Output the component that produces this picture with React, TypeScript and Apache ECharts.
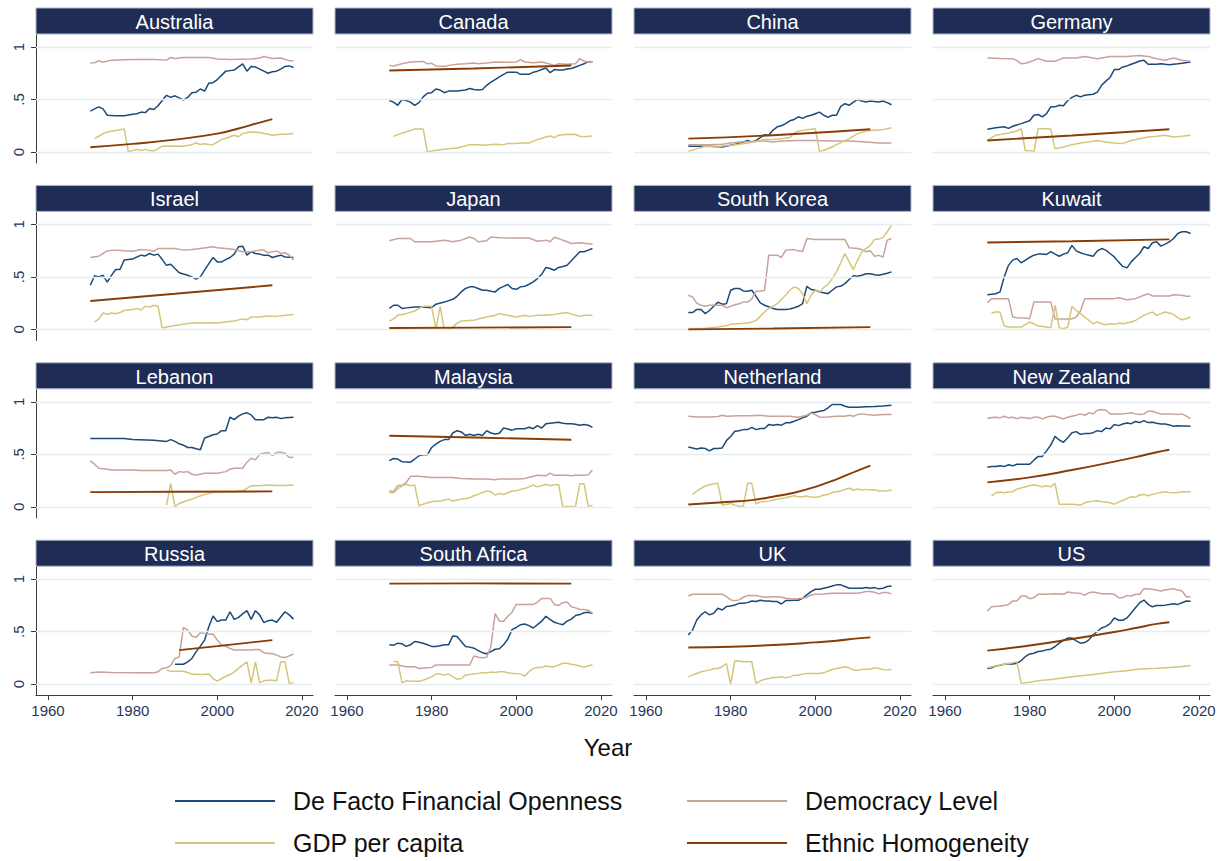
import React, { useEffect, useRef } from "react";
import * as echarts from "echarts";

type P = [number, number][];

const COUNTRIES = ["Australia", "Canada", "China", "Germany", "Israel", "Japan", "South Korea", "Kuwait", "Lebanon", "Malaysia", "Netherland", "New Zealand", "Russia", "South Africa", "UK", "US"];
const SERIES_NAMES = ["De Facto Financial Openness", "Democracy Level", "GDP per capita", "Ethnic Homogeneity"];
const SERIES_COLORS = ["#1b4a78", "#c8a29b", "#d4c67c", "#8a3c06"];
const X_TICKS = [1960, 1980, 2000, 2020];
const Y_TICKS = [0, 0.5, 1];
const X_TITLE = "Year";

// Australia
const AUS_FIN: P = [[1970,.39],[1971,.41],[1972,.43],[1973,.41],[1974,.35],[1976,.345],[1978,.345],[1980,.36],[1981,.365],[1982,.38],[1983,.375],[1984,.415],[1985,.405],[1986,.44],[1987,.49],[1988,.54],[1989,.52],[1990,.535],[1991,.515],[1992,.495],[1993,.52],[1994,.565],[1995,.57],[1996,.6],[1997,.58],[1998,.655],[1999,.66],[2000,.69],[2001,.73],[2002,.77],[2003,.775],[2004,.78],[2005,.81],[2006,.84],[2007,.77],[2008,.815],[2009,.81],[2010,.79],[2011,.77],[2012,.75],[2013,.765],[2014,.77],[2015,.79],[2016,.815],[2017,.82],[2018,.805]];
const AUS_DEM: P = [[1970,.847],[1971,.85],[1972,.87],[1973,.855],[1975,.875],[1978,.878],[1980,.88],[1985,.88],[1988,.875],[1989,.9],[1990,.89],[1992,.9],[1995,.9],[1998,.9],[2000,.885],[2003,.88],[2008,.885],[2010,.895],[2011,.91],[2013,.89],[2015,.895],[2017,.87],[2018,.87]];
const AUS_GDP: P = [[1971,.13],[1972,.15],[1973,.175],[1974,.19],[1976,.205],[1978,.22],[1979,0],[1980,.015],[1981,.025],[1982,.015],[1983,.025],[1984,.015],[1985,.01],[1986,.03],[1987,.055],[1990,.057],[1992,.055],[1994,.07],[1995,.085],[1996,.072],[1997,.078],[1998,.072],[1999,.07],[2000,.095],[2001,.12],[2002,.13],[2003,.145],[2004,.16],[2005,.145],[2006,.175],[2007,.185],[2008,.19],[2010,.185],[2012,.17],[2013,.16],[2015,.168],[2016,.17],[2018,.175]];
const AUS_ETH: P = [[1970,.045],[1980,.077],[1990,.118],[2000,.175],[2005,.224],[2010,.28],[2013,.313]];
// Canada
const CAN_FIN: P = [[1970,.49],[1971,.475],[1972,.445],[1973,.5],[1974,.49],[1975,.475],[1976,.445],[1977,.47],[1978,.525],[1979,.56],[1980,.565],[1981,.6],[1982,.59],[1983,.565],[1984,.58],[1986,.58],[1988,.59],[1989,.605],[1990,.595],[1991,.59],[1992,.595],[1993,.635],[1994,.665],[1995,.69],[1996,.715],[1997,.74],[1998,.76],[2000,.76],[2001,.74],[2003,.74],[2004,.76],[2005,.77],[2006,.785],[2007,.8],[2008,.755],[2009,.785],[2010,.78],[2011,.78],[2012,.79],[2013,.795],[2014,.81],[2015,.825],[2016,.84],[2017,.86],[2018,.86]];
const CAN_DEM: P = [[1970,.825],[1971,.82],[1973,.84],[1975,.857],[1978,.863],[1979,.84],[1980,.845],[1981,.82],[1983,.815],[1984,.825],[1986,.835],[1988,.84],[1990,.848],[1991,.84],[1993,.848],[1995,.857],[1998,.855],[2000,.857],[2001,.88],[2002,.857],[2004,.85],[2006,.857],[2007,.848],[2009,.825],[2010,.84],[2012,.835],[2014,.84],[2015,.89],[2016,.865],[2017,.857],[2018,.863]];
const CAN_GDP: P = [[1971,.15],[1973,.18],[1975,.205],[1976,.22],[1978,.22],[1979,0],[1980,.01],[1982,.022],[1984,.03],[1986,.038],[1987,.048],[1989,.07],[1991,.07],[1992,.064],[1995,.073],[1997,.07],[1998,.08],[2000,.08],[2001,.086],[2003,.086],[2005,.118],[2007,.143],[2008,.153],[2009,.137],[2010,.16],[2012,.17],[2014,.167],[2015,.15],[2016,.145],[2018,.153]];
const CAN_ETH: P = [[1970,.776],[1990,.795],[2013,.824]];
// China
const CHN_FIN: P = [[1970,.054],[1975,.054],[1978,.048],[1980,.064],[1982,.08],[1984,.11],[1985,.096],[1986,.11],[1987,.137],[1988,.165],[1989,.16],[1990,.207],[1991,.24],[1992,.25],[1993,.27],[1994,.297],[1995,.31],[1996,.335],[1997,.32],[1998,.34],[1999,.35],[2000,.365],[2001,.38],[2002,.35],[2003,.33],[2004,.35],[2005,.35],[2006,.435],[2007,.46],[2008,.445],[2009,.475],[2010,.5],[2011,.485],[2012,.477],[2013,.485],[2014,.48],[2015,.477],[2016,.485],[2017,.47],[2018,.45]];
const CHN_DEM: P = [[1970,.07],[1975,.07],[1978,.073],[1980,.086],[1982,.095],[1985,.1],[1988,.105],[1990,.096],[1992,.105],[1996,.11],[2000,.11],[2004,.105],[2008,.105],[2012,.096],[2015,.086],[2018,.086]];
const CHN_GDP: P = [[1970,.006],[1972,.03],[1974,.055],[1977,.048],[1978,.057],[1980,.064],[1982,.073],[1984,.086],[1986,.1],[1988,.118],[1990,.118],[1992,.127],[1994,.137],[1995,.18],[1996,.2],[1998,.213],[2000,.222],[2001,.006],[2002,.016],[2004,.048],[2006,.09],[2008,.127],[2010,.175],[2012,.2],[2014,.207],[2016,.213],[2018,.23]];
const CHN_ETH: P = [[1970,.127],[1990,.16],[2013,.217]];
// Germany
const DEU_FIN: P = [[1970,.217],[1972,.23],[1974,.24],[1975,.225],[1976,.245],[1978,.27],[1980,.297],[1981,.35],[1982,.357],[1983,.335],[1984,.365],[1985,.43],[1986,.43],[1987,.445],[1988,.44],[1989,.49],[1990,.52],[1991,.54],[1992,.525],[1993,.54],[1994,.545],[1995,.55],[1996,.57],[1997,.635],[1998,.675],[1999,.71],[2000,.785],[2001,.785],[2002,.81],[2003,.82],[2004,.835],[2005,.85],[2006,.867],[2007,.873],[2008,.835],[2010,.835],[2011,.84],[2012,.835],[2013,.832],[2015,.84],[2016,.845],[2018,.857]];
const DEU_DEM: P = [[1970,.895],[1973,.89],[1976,.889],[1977,.87],[1978,.84],[1979,.845],[1980,.857],[1982,.889],[1984,.864],[1986,.864],[1987,.88],[1988,.895],[1991,.895],[1993,.91],[1996,.889],[1999,.91],[2003,.91],[2006,.92],[2008,.91],[2010,.889],[2012,.873],[2014,.895],[2016,.873],[2018,.864]];
const DEU_GDP: P = [[1970,.11],[1972,.16],[1975,.18],[1977,.2],[1978,.222],[1979,.01],[1980,.015],[1981,0],[1982,.222],[1984,.222],[1985,.218],[1986,.03],[1988,.048],[1990,.07],[1992,.086],[1994,.095],[1996,.11],[1998,.095],[2000,.086],[2002,.08],[2004,.11],[2006,.127],[2008,.143],[2010,.15],[2012,.16],[2014,.143],[2016,.15],[2018,.16]];
const DEU_ETH: P = [[1970,.11],[1990,.157],[2013,.216]];
// Israel
const ISR_FIN: P = [[1970,.42],[1971,.51],[1972,.5],[1973,.515],[1974,.45],[1975,.515],[1976,.57],[1977,.57],[1978,.66],[1980,.67],[1981,.69],[1982,.707],[1983,.7],[1984,.723],[1985,.707],[1986,.717],[1987,.665],[1988,.61],[1989,.62],[1990,.58],[1991,.54],[1992,.527],[1993,.515],[1994,.5],[1995,.478],[1996,.5],[1997,.565],[1998,.627],[1999,.685],[2000,.643],[2001,.643],[2002,.665],[2003,.685],[2004,.717],[2005,.787],[2006,.793],[2007,.707],[2008,.74],[2009,.723],[2010,.717],[2011,.707],[2012,.707],[2013,.685],[2014,.697],[2015,.707],[2016,.69],[2018,.685]];
const ISR_DEM: P = [[1970,.685],[1972,.697],[1974,.748],[1976,.755],[1978,.748],[1980,.745],[1982,.76],[1984,.755],[1985,.742],[1986,.77],[1990,.77],[1992,.755],[1994,.76],[1996,.77],[1999,.787],[2000,.777],[2002,.77],[2004,.76],[2006,.74],[2008,.74],[2010,.755],[2011,.755],[2012,.73],[2014,.748],[2015,.723],[2016,.73],[2017,.707],[2018,.66]];
const ISR_GDP: P = [[1971,.07],[1972,.1],[1973,.156],[1974,.143],[1975,.156],[1976,.15],[1977,.16],[1978,.18],[1980,.19],[1981,.2],[1982,.185],[1983,.22],[1984,.213],[1985,.23],[1986,.22],[1987,.013],[1988,.022],[1990,.038],[1992,.048],[1994,.06],[1996,.06],[1998,.064],[2000,.06],[2002,.07],[2004,.08],[2006,.1],[2007,.092],[2008,.118],[2010,.118],[2012,.127],[2014,.124],[2016,.134],[2018,.143]];
const ISR_ETH: P = [[1970,.27],[1990,.34],[2013,.42]];
// Japan
const JPN_FIN: P = [[1970,.2],[1971,.23],[1972,.23],[1973,.2],[1974,.205],[1976,.213],[1978,.213],[1980,.207],[1981,.24],[1983,.26],[1985,.287],[1986,.315],[1987,.357],[1988,.39],[1989,.405],[1990,.405],[1991,.39],[1992,.373],[1993,.373],[1994,.363],[1995,.357],[1996,.39],[1997,.41],[1998,.427],[1999,.39],[2000,.382],[2001,.405],[2002,.41],[2003,.43],[2004,.452],[2005,.484],[2006,.525],[2007,.59],[2008,.58],[2009,.564],[2010,.59],[2011,.6],[2012,.61],[2013,.653],[2014,.697],[2015,.74],[2016,.74],[2017,.755],[2018,.77]];
const JPN_DEM: P = [[1970,.845],[1972,.866],[1975,.866],[1976,.835],[1980,.835],[1983,.85],[1985,.835],[1987,.85],[1989,.88],[1990,.866],[1991,.835],[1993,.845],[1994,.88],[1996,.873],[2000,.87],[2003,.87],[2005,.84],[2007,.85],[2008,.835],[2009,.878],[2011,.85],[2012,.835],[2013,.818],[2015,.825],[2018,.81]];
const JPN_GDP: P = [[1970,.076],[1971,.1],[1972,.134],[1974,.15],[1976,.175],[1977,.197],[1978,.22],[1980,.22],[1981,0],[1982,.22],[1983,0],[1984,0],[1985,.022],[1986,.06],[1987,.08],[1990,.086],[1991,.1],[1993,.118],[1995,.134],[1996,.15],[1998,.134],[2000,.118],[2002,.134],[2003,.124],[2005,.134],[2007,.134],[2009,.143],[2011,.156],[2012,.16],[2014,.134],[2015,.124],[2016,.134],[2018,.134]];
const JPN_ETH: P = [[1970,.013],[1990,.017],[2013,.022]];
// South Korea
const KOR_FIN: P = [[1970,.16],[1971,.16],[1972,.19],[1973,.19],[1974,.15],[1975,.18],[1976,.22],[1977,.26],[1978,.24],[1979,.245],[1980,.373],[1981,.39],[1982,.39],[1983,.366],[1984,.363],[1985,.373],[1986,.315],[1987,.252],[1988,.23],[1989,.215],[1990,.2],[1991,.19],[1993,.19],[1994,.195],[1995,.207],[1996,.22],[1997,.245],[1998,.41],[1999,.38],[2000,.373],[2001,.357],[2002,.35],[2003,.34],[2004,.373],[2005,.405],[2006,.41],[2007,.436],[2008,.475],[2009,.51],[2010,.507],[2011,.516],[2012,.53],[2013,.53],[2014,.52],[2015,.516],[2016,.525],[2017,.535],[2018,.548]];
const KOR_DEM: P = [[1970,.325],[1971,.31],[1972,.25],[1973,.23],[1974,.22],[1975,.23],[1977,.23],[1978,.23],[1979,.207],[1980,.22],[1981,.235],[1982,.245],[1983,.26],[1984,.26],[1985,.29],[1986,.363],[1987,.366],[1988,.37],[1989,.707],[1990,.707],[1991,.707],[1992,.685],[1993,.755],[1995,.76],[1996,.748],[1997,.742],[1998,.866],[2000,.857],[2002,.857],[2004,.857],[2007,.857],[2008,.777],[2010,.77],[2011,.76],[2012,.74],[2013,.748],[2014,.697],[2015,.705],[2016,.69],[2017,.85],[2018,.866]];
const KOR_GDP: P = [[1970,.006],[1974,.012],[1977,.022],[1979,.035],[1980,.048],[1982,.054],[1984,.06],[1985,.07],[1986,.086],[1987,.124],[1988,.166],[1989,.2],[1990,.22],[1991,.245],[1992,.287],[1993,.325],[1994,.373],[1995,.405],[1996,.39],[1997,.34],[1998,.245],[1999,.325],[2000,.373],[2001,.35],[2002,.4],[2003,.43],[2004,.484],[2005,.548],[2006,.634],[2007,.723],[2008,.643],[2009,.57],[2010,.66],[2011,.74],[2012,.77],[2013,.8],[2014,.857],[2015,.86],[2016,.876],[2017,.93],[2018,.994]];
const KOR_ETH: P = [[1970,0],[1990,.008],[2013,.022]];
// Kuwait
const KWT_FIN: P = [[1970,.33],[1972,.34],[1973,.357],[1974,.5],[1975,.61],[1976,.66],[1977,.675],[1978,.634],[1979,.66],[1980,.685],[1981,.707],[1982,.717],[1983,.717],[1984,.714],[1985,.74],[1986,.717],[1987,.697],[1988,.717],[1989,.73],[1990,.8],[1991,.748],[1992,.73],[1993,.717],[1994,.707],[1995,.697],[1996,.748],[1997,.77],[1998,.755],[1999,.723],[2000,.69],[2001,.643],[2002,.6],[2003,.586],[2004,.643],[2005,.685],[2006,.723],[2007,.787],[2008,.77],[2009,.825],[2010,.834],[2011,.793],[2012,.812],[2013,.834],[2014,.866],[2015,.914],[2016,.93],[2017,.93],[2018,.914]];
const KWT_DEM: P = [[1970,.255],[1971,.293],[1975,.293],[1976,.118],[1977,.112],[1979,.108],[1980,.102],[1981,.26],[1985,.26],[1986,.1],[1990,.1],[1991,.118],[1992,.175],[1993,.293],[1995,.293],[1998,.293],[2000,.293],[2001,.302],[2003,.283],[2005,.293],[2007,.325],[2008,.34],[2009,.318],[2011,.318],[2013,.318],[2014,.33],[2016,.325],[2017,.315],[2018,.315]];
const KWT_GDP: P = [[1971,.156],[1972,.166],[1973,.166],[1974,.032],[1975,.022],[1977,.022],[1978,.022],[1979,.048],[1980,.07],[1981,.054],[1982,.032],[1984,.022],[1985,.016],[1986,.23],[1987,.016],[1988,.006],[1989,.022],[1990,.22],[1991,.18],[1992,.15],[1993,.118],[1994,.086],[1995,.054],[1996,.07],[1997,.054],[1998,.045],[1999,.054],[2000,.048],[2001,.06],[2002,.054],[2004,.07],[2005,.086],[2006,.11],[2007,.134],[2008,.15],[2009,.166],[2010,.134],[2011,.15],[2012,.166],[2013,.156],[2014,.143],[2015,.11],[2016,.092],[2017,.102],[2018,.118]];
const KWT_ETH: P = [[1970,.828],[1990,.84],[2013,.857]];
// Lebanon
const LBN_FIN: P = [[1970,.65],[1975,.65],[1978,.65],[1980,.64],[1985,.633],[1988,.623],[1989,.64],[1990,.623],[1991,.6],[1992,.587],[1993,.565],[1994,.565],[1995,.553],[1996,.543],[1997,.655],[1998,.67],[1999,.686],[2000,.693],[2001,.725],[2002,.725],[2003,.853],[2004,.83],[2005,.863],[2006,.885],[2007,.895],[2008,.875],[2009,.83],[2010,.83],[2011,.83],[2012,.853],[2013,.847],[2014,.853],[2015,.84],[2016,.847],[2018,.853]];
const LBN_DEM: P = [[1970,.438],[1971,.406],[1972,.367],[1974,.358],[1975,.351],[1980,.351],[1982,.345],[1985,.345],[1988,.345],[1989,.351],[1990,.31],[1991,.335],[1992,.329],[1993,.335],[1994,.31],[1995,.303],[1996,.31],[1997,.32],[2000,.32],[2002,.335],[2003,.358],[2004,.367],[2006,.367],[2007,.425],[2008,.463],[2009,.447],[2010,.5],[2011,.51],[2012,.518],[2013,.486],[2014,.518],[2015,.52],[2016,.51],[2017,.47],[2018,.473]];
const LBN_GDP: P = [[1988,.016],[1989,.224],[1990,0],[1991,.032],[1992,.048],[1994,.073],[1996,.105],[1998,.128],[2000,.144],[2002,.144],[2004,.144],[2006,.15],[2007,.176],[2008,.2],[2010,.2],[2012,.208],[2014,.202],[2016,.202],[2018,.208]];
const LBN_ETH: P = [[1970,.14],[1990,.143],[2013,.147]];
// Malaysia
const MYS_FIN: P = [[1970,.44],[1971,.46],[1972,.455],[1973,.43],[1975,.425],[1976,.455],[1977,.486],[1978,.495],[1979,.495],[1980,.565],[1981,.597],[1982,.623],[1983,.64],[1984,.64],[1985,.703],[1986,.725],[1987,.713],[1988,.68],[1989,.69],[1990,.68],[1991,.69],[1992,.68],[1993,.725],[1994,.703],[1995,.693],[1996,.7],[1997,.75],[1998,.74],[1999,.73],[2000,.744],[2002,.744],[2003,.757],[2004,.744],[2005,.773],[2006,.75],[2007,.79],[2008,.795],[2010,.805],[2011,.795],[2012,.79],[2013,.79],[2014,.786],[2015,.777],[2016,.783],[2017,.777],[2018,.757]];
const MYS_DEM: P = [[1970,.15],[1971,.145],[1972,.2],[1973,.205],[1974,.23],[1975,.29],[1977,.29],[1980,.28],[1985,.28],[1987,.27],[1990,.265],[1993,.265],[1995,.257],[1996,.265],[2000,.265],[2002,.27],[2004,.29],[2005,.3],[2007,.295],[2008,.32],[2009,.3],[2011,.3],[2012,.3],[2013,.295],[2014,.3],[2016,.3],[2017,.306],[2018,.35]];
const MYS_GDP: P = [[1970,.137],[1971,.134],[1972,.17],[1973,.2],[1974,.214],[1975,.2],[1976,.207],[1977,.01],[1978,.025],[1979,.038],[1980,.048],[1981,.054],[1982,.054],[1983,.064],[1984,.073],[1985,.054],[1986,.064],[1987,.073],[1988,.08],[1989,.086],[1990,.105],[1991,.118],[1992,.137],[1993,.15],[1994,.144],[1995,.112],[1996,.128],[1997,.118],[1998,.134],[1999,.15],[2000,.153],[2001,.166],[2002,.175],[2003,.19],[2004,.208],[2005,.19],[2006,.2],[2007,.214],[2008,.2],[2009,.21],[2010,.21],[2011,0],[2012,.003],[2013,.003],[2014,.006],[2015,.22],[2016,.22],[2017,.006],[2018,.013]];
const MYS_ETH: P = [[1970,.677],[1990,.66],[2013,.638]];
// Netherland
const NLD_FIN: P = [[1970,.569],[1971,.56],[1972,.55],[1973,.56],[1974,.555],[1975,.533],[1976,.555],[1977,.555],[1978,.56],[1979,.63],[1980,.67],[1981,.72],[1982,.725],[1983,.735],[1984,.735],[1985,.757],[1986,.735],[1987,.745],[1988,.745],[1989,.783],[1990,.777],[1991,.783],[1992,.777],[1993,.8],[1994,.8],[1995,.815],[1996,.83],[1997,.847],[1998,.863],[1999,.895],[2000,.9],[2001,.91],[2002,.917],[2003,.942],[2004,.974],[2005,.974],[2006,.974],[2007,.958],[2008,.949],[2010,.949],[2012,.952],[2014,.955],[2016,.96],[2018,.968]];
const NLD_DEM: P = [[1970,.863],[1972,.856],[1975,.856],[1977,.86],[1978,.872],[1979,.863],[1982,.868],[1985,.868],[1987,.872],[1989,.863],[1992,.863],[1994,.863],[1996,.853],[1998,.872],[1999,.894],[2000,.878],[2001,.853],[2003,.856],[2005,.863],[2007,.863],[2008,.872],[2009,.863],[2010,.878],[2011,.885],[2012,.878],[2014,.872],[2016,.878],[2018,.878]];
const NLD_GDP: P = [[1971,.118],[1972,.15],[1973,.176],[1974,.198],[1975,.21],[1976,.22],[1977,.224],[1978,.016],[1979,.022],[1980,.032],[1981,.016],[1982,.006],[1983,.006],[1984,.224],[1985,.224],[1986,.025],[1987,.048],[1988,.048],[1989,.054],[1990,.064],[1991,.073],[1992,.08],[1993,.086],[1994,.096],[1995,.105],[1996,.096],[1997,.096],[1998,.102],[1999,.092],[2000,.09],[2001,.096],[2002,.112],[2003,.118],[2004,.137],[2005,.144],[2006,.15],[2007,.166],[2008,.176],[2009,.16],[2010,.169],[2011,.16],[2012,.166],[2013,.16],[2014,.163],[2015,.15],[2016,.15],[2017,.153],[2018,.16]];
const NLD_ETH: P = [[1970,.022],[1980,.048],[1985,.064],[1990,.096],[1995,.134],[2000,.19],[2005,.262],[2010,.345],[2013,.393]];
// New Zealand
const NZL_FIN: P = [[1970,.377],[1971,.383],[1972,.383],[1973,.39],[1974,.383],[1975,.4],[1976,.39],[1977,.405],[1978,.405],[1979,.405],[1980,.405],[1981,.444],[1982,.48],[1983,.48],[1984,.533],[1985,.588],[1986,.671],[1987,.636],[1988,.614],[1989,.658],[1990,.706],[1991,.716],[1992,.69],[1993,.697],[1994,.697],[1995,.706],[1996,.725],[1997,.716],[1998,.751],[1999,.742],[2000,.783],[2001,.773],[2002,.789],[2003,.799],[2004,.792],[2005,.812],[2006,.802],[2007,.821],[2008,.802],[2009,.805],[2010,.795],[2011,.789],[2012,.789],[2013,.78],[2014,.767],[2015,.773],[2016,.77],[2017,.77],[2018,.767]];
const NZL_DEM: P = [[1970,.84],[1971,.85],[1972,.853],[1973,.847],[1974,.863],[1975,.847],[1976,.853],[1977,.84],[1978,.853],[1980,.84],[1981,.853],[1982,.853],[1983,.837],[1984,.853],[1985,.863],[1986,.863],[1987,.85],[1988,.837],[1989,.853],[1990,.863],[1991,.872],[1992,.885],[1993,.872],[1994,.895],[1995,.885],[1996,.92],[1997,.926],[1998,.92],[1999,.885],[2000,.885],[2002,.885],[2004,.895],[2005,.885],[2006,.878],[2007,.885],[2008,.91],[2009,.91],[2010,.895],[2011,.885],[2013,.885],[2015,.878],[2016,.885],[2017,.863],[2018,.84]];
const NZL_GDP: P = [[1971,.102],[1972,.134],[1973,.14],[1974,.134],[1975,.14],[1976,.144],[1977,.17],[1978,.18],[1979,.19],[1980,.2],[1981,.21],[1982,.2],[1983,.19],[1984,.2],[1985,.19],[1986,.224],[1987,.022],[1988,.025],[1990,.025],[1992,.016],[1993,.038],[1994,.048],[1995,.054],[1996,.058],[1997,.048],[1998,.045],[1999,.038],[2000,.025],[2001,.045],[2002,.06],[2003,.08],[2004,.096],[2005,.092],[2006,.112],[2007,.118],[2008,.105],[2009,.118],[2010,.128],[2011,.137],[2012,.144],[2013,.137],[2014,.134],[2015,.137],[2016,.144],[2018,.144]];
const NZL_ETH: P = [[1970,.233],[1980,.28],[1990,.35],[2000,.43],[2005,.473],[2010,.52],[2013,.543]];
// Russia
const RUS_FIN: P = [[1990,.19],[1991,.19],[1992,.19],[1993,.213],[1994,.245],[1995,.31],[1996,.363],[1997,.42],[1998,.548],[1999,.65],[2000,.596],[2001,.611],[2002,.611],[2003,.69],[2004,.618],[2005,.637],[2006,.669],[2007,.7],[2008,.618],[2009,.7],[2010,.66],[2011,.586],[2012,.605],[2013,.611],[2014,.59],[2015,.64],[2016,.69],[2017,.66],[2018,.62]];
const RUS_DEM: P = [[1970,.108],[1972,.115],[1975,.112],[1980,.11],[1985,.108],[1986,.118],[1987,.15],[1988,.156],[1989,.18],[1990,.245],[1991,.26],[1992,.541],[1993,.516],[1994,.459],[1995,.446],[1996,.49],[1997,.484],[1998,.475],[1999,.478],[2000,.42],[2001,.373],[2002,.363],[2003,.34],[2004,.325],[2006,.325],[2008,.325],[2009,.33],[2010,.33],[2011,.3],[2012,.293],[2013,.293],[2014,.277],[2015,.26],[2016,.255],[2017,.27],[2018,.287]];
const RUS_GDP: P = [[1988,.134],[1989,.124],[1990,.124],[1992,.124],[1993,.111],[1994,.096],[1996,.093],[1998,.096],[1999,.054],[2000,.029],[2001,.054],[2002,.076],[2003,.092],[2004,.118],[2005,.15],[2006,.182],[2007,.213],[2008,.013],[2009,.213],[2010,.013],[2011,.032],[2012,.038],[2013,.038],[2014,.032],[2015,.213],[2016,.213],[2017,.006],[2018,.013]];
const RUS_ETH: P = [[1991,.325],[2000,.363],[2013,.42]];
// South Africa
const ZAF_FIN: P = [[1970,.375],[1971,.37],[1972,.391],[1973,.385],[1974,.36],[1975,.375],[1976,.407],[1977,.4],[1978,.39],[1979,.375],[1980,.36],[1981,.36],[1982,.366],[1983,.375],[1984,.375],[1985,.46],[1986,.455],[1987,.407],[1988,.36],[1989,.353],[1990,.343],[1991,.32],[1992,.3],[1993,.29],[1994,.31],[1995,.333],[1996,.337],[1997,.375],[1998,.43],[1999,.52],[2000,.54],[2001,.567],[2002,.574],[2003,.558],[2004,.535],[2005,.567],[2006,.6],[2007,.647],[2008,.615],[2009,.59],[2010,.577],[2011,.567],[2012,.6],[2013,.62],[2014,.654],[2015,.663],[2016,.68],[2017,.686],[2018,.673]];
const ZAF_DEM: P = [[1970,.183],[1972,.183],[1974,.167],[1976,.167],[1977,.15],[1979,.157],[1980,.16],[1981,.183],[1983,.183],[1986,.183],[1988,.183],[1989,.183],[1990,.27],[1991,.257],[1992,.253],[1993,.257],[1994,.36],[1995,.673],[1996,.6],[1997,.6],[1998,.647],[1999,.686],[2000,.76],[2001,.76],[2003,.76],[2004,.76],[2005,.78],[2006,.817],[2007,.817],[2008,.817],[2009,.76],[2010,.75],[2011,.776],[2012,.782],[2013,.737],[2014,.727],[2015,.712],[2016,.712],[2017,.705],[2018,.673]];
const ZAF_GDP: P = [[1971,.215],[1972,.215],[1973,.013],[1974,.032],[1975,.029],[1976,.029],[1977,.029],[1978,.038],[1979,.054],[1980,.07],[1981,.096],[1982,.096],[1983,.087],[1984,.096],[1985,.07],[1986,.048],[1987,.054],[1988,.087],[1989,.093],[1990,.096],[1991,.103],[1992,.109],[1993,.109],[1994,.115],[1995,.112],[1996,.119],[1997,.119],[1998,.109],[1999,.103],[2000,.103],[2001,.096],[2002,.077],[2003,.119],[2004,.15],[2005,.16],[2006,.16],[2007,.173],[2008,.167],[2009,.167],[2010,.183],[2011,.2],[2012,.2],[2013,.19],[2014,.183],[2015,.173],[2016,.16],[2017,.176],[2018,.183]];
const ZAF_ETH: P = [[1970,.958],[1990,.96],[2013,.958]];
// UK
const GBR_FIN: P = [[1970,.468],[1971,.516],[1972,.611],[1973,.66],[1974,.69],[1975,.66],[1976,.675],[1977,.723],[1978,.707],[1979,.739],[1980,.745],[1981,.755],[1982,.77],[1983,.77],[1984,.777],[1985,.793],[1986,.787],[1987,.8],[1988,.793],[1989,.793],[1990,.787],[1991,.787],[1992,.764],[1993,.796],[1994,.796],[1995,.8],[1996,.8],[1997,.818],[1998,.85],[1999,.882],[2000,.904],[2001,.904],[2002,.914],[2003,.924],[2004,.936],[2005,.946],[2006,.946],[2007,.93],[2008,.914],[2009,.914],[2010,.914],[2011,.914],[2012,.92],[2013,.914],[2014,.92],[2015,.908],[2016,.914],[2017,.93],[2018,.936]];
const GBR_DEM: P = [[1970,.84],[1971,.857],[1975,.857],[1978,.857],[1979,.834],[1980,.803],[1981,.796],[1982,.803],[1983,.828],[1984,.844],[1986,.844],[1988,.828],[1990,.834],[1991,.834],[1992,.828],[1993,.818],[1995,.812],[1997,.818],[1998,.828],[1999,.85],[2000,.857],[2002,.86],[2004,.866],[2006,.866],[2008,.866],[2010,.866],[2011,.873],[2012,.882],[2013,.882],[2014,.876],[2015,.86],[2016,.873],[2017,.873],[2018,.86]];
const GBR_GDP: P = [[1970,.07],[1971,.086],[1972,.102],[1973,.118],[1974,.127],[1975,.134],[1976,.15],[1977,.15],[1978,.166],[1979,.197],[1980,0],[1981,.223],[1982,.22],[1983,.213],[1984,.213],[1985,.213],[1986,.006],[1987,.032],[1988,.045],[1989,.054],[1990,.064],[1991,.064],[1992,.07],[1993,.06],[1994,.07],[1995,.086],[1996,.086],[1997,.096],[1998,.102],[1999,.102],[2000,.102],[2001,.102],[2002,.108],[2003,.124],[2004,.14],[2005,.15],[2006,.156],[2007,.166],[2008,.156],[2009,.134],[2010,.134],[2011,.14],[2012,.143],[2013,.143],[2014,.156],[2015,.15],[2016,.14],[2017,.134],[2018,.143]];
const GBR_ETH: P = [[1970,.35],[1980,.357],[1990,.373],[2000,.398],[2005,.414],[2010,.436],[2013,.446]];
// US
const USA_FIN: P = [[1970,.15],[1971,.157],[1972,.173],[1973,.18],[1974,.189],[1975,.192],[1976,.192],[1977,.199],[1978,.224],[1979,.263],[1980,.288],[1981,.295],[1982,.311],[1983,.317],[1984,.327],[1985,.333],[1986,.359],[1987,.391],[1988,.417],[1989,.439],[1990,.439],[1991,.413],[1992,.391],[1993,.397],[1994,.423],[1995,.471],[1996,.503],[1997,.535],[1998,.551],[1999,.577],[2000,.631],[2001,.609],[2002,.609],[2003,.631],[2004,.679],[2005,.728],[2006,.776],[2007,.801],[2008,.76],[2009,.737],[2010,.75],[2011,.75],[2012,.753],[2013,.76],[2014,.766],[2015,.76],[2016,.776],[2017,.792],[2018,.789]];
const USA_DEM: P = [[1970,.696],[1971,.737],[1973,.744],[1974,.75],[1975,.76],[1976,.792],[1977,.792],[1978,.84],[1979,.84],[1980,.814],[1981,.824],[1982,.856],[1984,.856],[1986,.862],[1988,.856],[1989,.878],[1990,.872],[1992,.865],[1993,.846],[1994,.872],[1995,.878],[1997,.862],[1999,.862],[2000,.856],[2001,.824],[2002,.824],[2003,.846],[2004,.84],[2005,.856],[2006,.856],[2007,.91],[2008,.91],[2010,.897],[2011,.888],[2012,.897],[2013,.904],[2014,.91],[2015,.897],[2016,.888],[2017,.833],[2018,.833]];
const USA_GDP: P = [[1970,.157],[1972,.173],[1974,.189],[1976,.205],[1977,.215],[1978,.006],[1980,.019],[1982,.032],[1985,.045],[1990,.071],[1995,.093],[2000,.119],[2003,.128],[2006,.144],[2010,.151],[2015,.163],[2018,.179]];
const USA_ETH: P = [[1970,.32],[1980,.369],[1990,.43],[2000,.497],[2005,.535],[2010,.574],[2013,.59]];

const FIN_OPEN = [AUS_FIN, CAN_FIN, CHN_FIN, DEU_FIN, ISR_FIN, JPN_FIN, KOR_FIN, KWT_FIN, LBN_FIN, MYS_FIN, NLD_FIN, NZL_FIN, RUS_FIN, ZAF_FIN, GBR_FIN, USA_FIN];
const DEMOCRACY = [AUS_DEM, CAN_DEM, CHN_DEM, DEU_DEM, ISR_DEM, JPN_DEM, KOR_DEM, KWT_DEM, LBN_DEM, MYS_DEM, NLD_DEM, NZL_DEM, RUS_DEM, ZAF_DEM, GBR_DEM, USA_DEM];
const GDP_PC = [AUS_GDP, CAN_GDP, CHN_GDP, DEU_GDP, ISR_GDP, JPN_GDP, KOR_GDP, KWT_GDP, LBN_GDP, MYS_GDP, NLD_GDP, NZL_GDP, RUS_GDP, ZAF_GDP, GBR_GDP, USA_GDP];
const ETHNIC = [AUS_ETH, CAN_ETH, CHN_ETH, DEU_ETH, ISR_ETH, JPN_ETH, KOR_ETH, KWT_ETH, LBN_ETH, MYS_ETH, NLD_ETH, NZL_ETH, RUS_ETH, ZAF_ETH, GBR_ETH, USA_ETH];
const SERIES_DATA = [FIN_OPEN, DEMOCRACY, GDP_PC, ETHNIC];

// layout
const FONT = "'Liberation Sans', Arial, Helvetica, sans-serif";
const COL_LEFT0 = 36;
const COL_STEP = 299;
const PANEL_W = 277;
const ROW_TOP0 = 8;
const ROW_STEP = 177.4;
const STRIP_H = 26;
const PLOT_GAP = 27;
const PLOT_H = 128;
const X_MIN = 1957.17;
const X_MAX = 2022.61;
const Y_MIN = -0.1048;
const Y_MAX = 1.1143;
const STRIP_FILL = "#1f2c55";
const STRIP_STROKE = "#aeb6c6";
const LABEL_COLOR = "#27365a";
const GRID_COLOR = "#e5edf0";

function buildOption() {
  const grid: any[] = [];
  const xAxis: any[] = [];
  const yAxis: any[] = [];
  const series: any[] = [];
  const graphic: any[] = [];

  COUNTRIES.forEach((name, i) => {
    const row = Math.floor(i / 4);
    const col = i % 4;
    const left = COL_LEFT0 + COL_STEP * col;
    const stripTop = ROW_TOP0 + ROW_STEP * row;
    const isBottom = row === 3;
    const isLeft = col === 0;

    grid.push({ left, top: stripTop + PLOT_GAP, width: PANEL_W, height: PLOT_H, containLabel: false });

    xAxis.push({
      gridIndex: i, type: "value", min: X_MIN, max: X_MAX, show: isBottom,
      axisLine: { show: isBottom, onZero: false, lineStyle: { color: "#3a3a3a", width: 1 } },
      axisTick: { show: isBottom, length: 5, customValues: X_TICKS, lineStyle: { color: "#3a3a3a" } },
      axisLabel: { show: isBottom, customValues: X_TICKS, fontSize: 15, color: LABEL_COLOR, margin: 8, fontFamily: FONT, formatter: (v: number) => String(Math.round(v)) },
      splitLine: { show: false },
    });

    yAxis.push({
      gridIndex: i, type: "value", min: Y_MIN, max: Y_MAX, show: isLeft,
      axisLine: { show: isLeft, lineStyle: { color: "#3a3a3a", width: 1 } },
      axisTick: { show: isLeft, length: 5, customValues: Y_TICKS, lineStyle: { color: "#3a3a3a" } },
      axisLabel: {
        show: isLeft, customValues: Y_TICKS, rotate: 90, fontSize: 15, color: LABEL_COLOR, margin: 10, fontFamily: FONT,
        formatter: (v: number) => (Math.abs(v - 0.5) < 1e-6 ? ".5" : String(Math.round(v))),
      },
      splitLine: { show: false },
    });

    series.push({
      type: "line", xAxisIndex: i, yAxisIndex: i, data: [], silent: true, z: 1,
      markLine: {
        silent: true, symbol: ["none", "none"], label: { show: false },
        lineStyle: { color: GRID_COLOR, width: 1.3, type: "solid" },
        data: Y_TICKS.map((v) => ({ yAxis: v })),
      },
    });

    SERIES_DATA.forEach((sd, s) => {
      series.push({
        type: "line", name: SERIES_NAMES[s], xAxisIndex: i, yAxisIndex: i,
        data: sd[i], showSymbol: false, symbol: "none", smooth: s === 3,
        silent: true, z: 2 + s,
        lineStyle: { color: SERIES_COLORS[s], width: s === 3 ? 1.9 : 1.5 },
        itemStyle: { color: SERIES_COLORS[s] },
      });
    });

    graphic.push({
      type: "rect", shape: { x: left, y: stripTop, width: PANEL_W, height: STRIP_H },
      style: { fill: STRIP_FILL, stroke: STRIP_STROKE, lineWidth: 1 }, silent: true,
    });
    graphic.push({
      type: "text", x: left + PANEL_W / 2, y: stripTop + STRIP_H / 2 + 1,
      style: { text: name, fill: "#ffffff", font: `20px ${FONT}`, align: "center", verticalAlign: "middle", textAlign: "center", textVerticalAlign: "middle" },
      silent: true,
    });
  });

  graphic.push({
    type: "text", x: 608, y: 747,
    style: { text: X_TITLE, fill: "#111", font: `24px ${FONT}`, align: "center", verticalAlign: "middle", textAlign: "center", textVerticalAlign: "middle" },
  });

  const legendPos = [[175, 801], [687, 801], [175, 843], [687, 843]];
  SERIES_NAMES.forEach((label, s) => {
    const [lx, ly] = legendPos[s];
    graphic.push({ type: "line", shape: { x1: lx, y1: ly, x2: lx + 100, y2: ly }, style: { stroke: SERIES_COLORS[s], lineWidth: 2 } });
    graphic.push({
      type: "text", x: lx + 118, y: ly,
      style: { text: label, fill: "#111", font: `25px ${FONT}`, align: "left", verticalAlign: "middle", textAlign: "left", textVerticalAlign: "middle" },
    });
  });

  return { animation: false, backgroundColor: "#ffffff", grid, xAxis, yAxis, series, graphic };
}

export default function App() {
  const ref = useRef<HTMLDivElement>(null);
  useEffect(() => {
    if (!ref.current) return;
    const chart = echarts.init(ref.current, undefined, { renderer: "svg" });
    chart.setOption(buildOption() as any);
    return () => chart.dispose();
  }, []);
  return <div ref={ref} style={{ position: "fixed", left: 0, top: 0, width: 1221, height: 861, background: "#fff" }} />;
}
